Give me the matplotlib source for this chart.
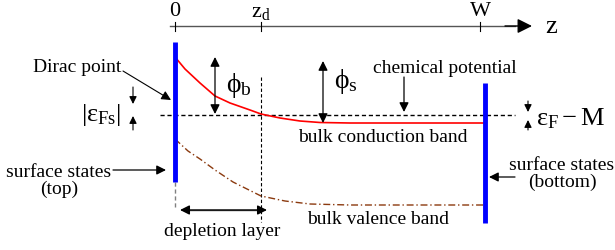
import matplotlib
matplotlib.use("Agg")
import matplotlib.pyplot as plt

plt.rcParams.update({"font.family": ["Liberation Serif", "DejaVu Serif"], "mathtext.fontset": "stix"})

# positions along z (picture units) and band levels
tick_pos = [175, 261, 480]
tick_labels = ["0", "$\\mathregular{z_d}$", "W"]
cond_z = [175, 185, 200, 215, 230, 250, 261, 280, 300, 320, 350, 400, 485]
cond_e = [58, 70, 84, 97, 104, 111, 115, 119, 122, 123.5, 124, 124, 124]
val_z = [175, 188, 200, 215, 233, 261, 285, 310, 350, 485]
val_e = [140, 152, 160, 171, 183, 197, 202, 205, 206, 206]
chem_level = 115.5

fig = plt.figure(figsize=(6.15, 2.51), dpi=100)
ax = fig.add_axes([0, 0, 1, 1])
ax.set_xlim(0, 615)
ax.set_ylim(251, 0)
ax.axis("off")

FS = 14
def arrow(x0, y0, x1, y1, color="black", lw=0.9, both=False, ms=14):
    ax.annotate("", xy=(x1, y1), xytext=(x0, y0),
                arrowprops=dict(arrowstyle="<|-|>" if both else "-|>", color=color, lw=lw,
                                mutation_scale=ms, shrinkA=0, shrinkB=0))

# z axis
ax.plot([170, 515], [27, 27], color="#555555", lw=1)
arrow(505, 27, 532, 27, color="black", lw=1, ms=22)
for x, lab in zip(tick_pos, tick_labels):
    ax.plot([x, x], [23, 32], color="black", lw=0.8)
    ax.text(x, 12, lab, ha="center", va="center", fontsize=16)
ax.text(551, 27, "z", ha="center", va="center", fontsize=19)

# chemical potential (dotted) and z_d marker
ax.plot([160, 515], [chem_level, chem_level], color="black", lw=1, ls=(0, (3, 2)))
ax.plot([261, 261], [78, 223], color="black", lw=0.8, ls=(0, (3, 2)))
ax.plot([175, 175], [183, 208], color="gray", lw=1, ls=(0, (3, 2)))

# bands
ax.plot(cond_z, cond_e, color="red", lw=1.2)
ax.plot(val_z, val_e, color="#8B3A0F", lw=1, ls=(0, (5, 2, 1, 2)))

# surfaces
ax.plot([175, 175], [43, 183], color="blue", lw=3.5, solid_capstyle="butt")
ax.plot([485, 485], [84, 224], color="blue", lw=3.5, solid_capstyle="butt")

# phi arrows
arrow(215, 58, 215, 115, both=True)
ax.text(226, 86, "$\\mathregular{\\phi_b}$", fontsize=20, va="center")
arrow(323, 62, 323, 124, both=True)
ax.text(334, 82, "$\\mathregular{\\phi_s}$", fontsize=20, va="center")

# chemical potential label
ax.text(445, 69, "chemical potential", ha="center", va="center", fontsize=FS)
arrow(404, 78, 404, 113)

# Dirac point
ax.text(121, 68, "Dirac point", ha="right", va="center", fontsize=FS)
arrow(123, 72, 171, 101, lw=0.8)

# |eps_Fs|
ax.text(81, 115, "$\\mathregular{|\\varepsilon_{Fs}|}$", ha="left", va="center", fontsize=19)
arrow(133, 88, 133, 105, lw=0.8, ms=11)
arrow(133, 131, 133, 117, lw=0.8, ms=11)

# eps_F - M
ax.text(536, 119, "$\\mathregular{\\varepsilon_F - M}$", ha="left", va="center", fontsize=19)
arrow(528, 102, 528, 113, lw=0.8, ms=11)
arrow(528, 131, 528, 121, lw=0.8, ms=11)

# band labels
ax.text(383, 138, "bulk conduction band", ha="center", va="center", fontsize=FS)
ax.text(378, 220, "bulk valence band", ha="center", va="center", fontsize=FS)

# surface states labels
ax.text(59, 181, "surface states\n(top)", ha="center", va="center", fontsize=FS, linespacing=1.05)
arrow(113, 171, 166, 171)
ax.text(562, 174, "surface states\n(bottom)", ha="center", va="center", fontsize=FS, linespacing=0.95)
arrow(515, 178, 489, 178)

# depletion layer
ax.annotate("", xy=(267, 211), xytext=(180, 211),
            arrowprops=dict(arrowstyle="<|-|>", color="black", lw=1, mutation_scale=14,
                            shrinkA=0, shrinkB=0))
ax.plot([190, 257], [211, 211], color="#555555", lw=1)
ax.text(222, 232, "depletion layer", ha="center", va="center", fontsize=FS)

fig.savefig("out.png", dpi=100)
